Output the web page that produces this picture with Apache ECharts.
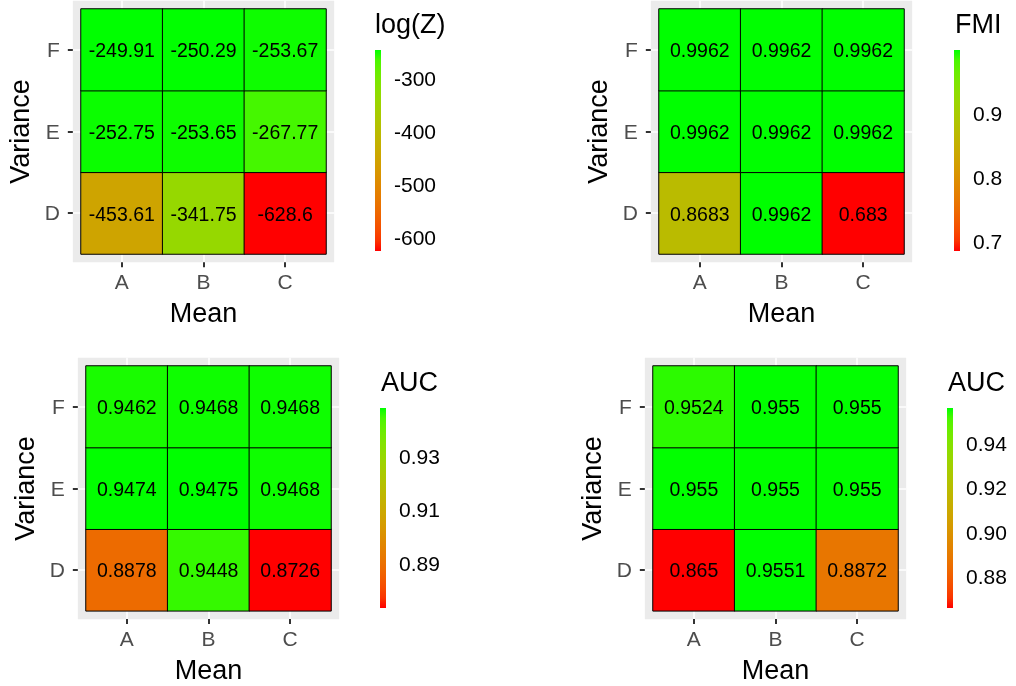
<!DOCTYPE html>
<html>
<head>
<meta charset="UTF-8" />
<title>Heatmaps</title>
<script src="https://cdn.jsdelivr.net/npm/echarts@6.0.0/dist/echarts.min.js"></script>
</head>
<body style="margin:0">
<div id="chart" style="width:1016px;height:686px"></div>
<script>
// categories
const meanCats = ['A', 'B', 'C'];
const varCats = ['D', 'E', 'F'];

// values, rows D, E, F ; columns A, B, C
const logZ = [[-453.61, -341.75, -628.6], [-252.75, -253.65, -267.77], [-249.91, -250.29, -253.67]];
const fmi = [[0.8683, 0.9962, 0.683], [0.9962, 0.9962, 0.9962], [0.9962, 0.9962, 0.9962]];
const aucLeft = [[0.8878, 0.9448, 0.8726], [0.9474, 0.9475, 0.9468], [0.9462, 0.9468, 0.9468]];
const aucRight = [[0.865, 0.9551, 0.8872], [0.955, 0.955, 0.955], [0.9524, 0.955, 0.955]];

// legend titles and ticks
const legendTitles = ['log(Z)', 'FMI', 'AUC', 'AUC'];
const legendTicks = [[-600, -500, -400, -300], [0.7, 0.8, 0.9], [0.89, 0.91, 0.93], [0.88, 0.90, 0.92, 0.94]];
const legendDigits = [0, 1, 2, 2];

const panelValues = [logZ, fmi, aucLeft, aucRight];

// layout (px): tile area origin, colour bar position, legend title position
const layout = [
  { x: 81, y: 9, barX: 375, barY: 50, barH: 201, tX: 375, tY: 12 },
  { x: 659, y: 9, barX: 954, barY: 50, barH: 201, tX: 955, tY: 12 },
  { x: 86, y: 366, barX: 380, barY: 408, barH: 200, tX: 381, tY: 370 },
  { x: 653, y: 366, barX: 947, barY: 408, barH: 200, tX: 948, tY: 370 }
];
const TILE = 245;
const PAD = TILE * 0.1 / 3;

// red -> green gradient interpolated in Lab like ggplot
function labToHex(L, a, b) {
  const fy = (L + 16) / 116, fx = fy + a / 500, fz = fy - b / 200;
  const inv = t => t > 6 / 29 ? t * t * t : 3 * (6 / 29) * (6 / 29) * (t - 4 / 29);
  const X = 0.95047 * inv(fx), Y = inv(fy), Z = 1.08883 * inv(fz);
  const r = 3.2406 * X - 1.5372 * Y - 0.4986 * Z;
  const g = -0.9689 * X + 1.8758 * Y + 0.0415 * Z;
  const bl = 0.0557 * X - 0.2040 * Y + 1.0570 * Z;
  const gam = c => { c = Math.max(0, Math.min(1, c)); return c <= 0.0031308 ? 12.92 * c : 1.055 * Math.pow(c, 1 / 2.4) - 0.055; };
  return '#' + [r, g, bl].map(c => Math.round(gam(c) * 255).toString(16).padStart(2, '0')).join('');
}
const red = [53.2408, 80.0925, 67.2032], green = [87.7347, -86.1827, 83.1793];
const gradient = [];
for (let i = 0; i <= 20; i++) {
  const t = i / 20;
  gradient.push(labToHex(red[0] + (green[0] - red[0]) * t, red[1] + (green[1] - red[1]) * t, red[2] + (green[2] - red[2]) * t));
}
const barFill = {
  type: 'linear', x: 0, y: 1, x2: 0, y2: 0,
  colorStops: gradient.map((c, k) => ({ offset: k / (gradient.length - 1), color: c }))
};

const font = 'Liberation Sans';
let grid = [], xAxis = [], yAxis = [], series = [], visualMap = [], title = [];

layout.forEach((p, i) => {
  const vals = panelValues[i];
  const flat = vals.flat();
  const vmin = Math.min(...flat), vmax = Math.max(...flat);

  // grey panel background with white grid lines
  grid.push({ left: p.x - PAD, top: p.y - PAD, width: TILE + 2 * PAD, height: TILE + 2 * PAD,
    show: true, backgroundColor: '#EBEBEB', borderWidth: 0 });
  const bgAxis = {
    type: 'value', gridIndex: 3 * i, min: 0.4, max: 3.6,
    axisLine: { show: false }, axisLabel: { show: false },
    axisTick: { show: false, customValues: [1, 2, 3] },
    splitLine: { show: true, lineStyle: { color: '#fff', width: 1.6 } }
  };
  xAxis.push(Object.assign({}, bgAxis));
  yAxis.push(Object.assign({}, bgAxis));

  // tiles
  grid.push({ left: p.x, top: p.y, width: TILE, height: TILE });
  xAxis.push({
    type: 'category', gridIndex: 3 * i + 1, data: meanCats, offset: PAD,
    axisLine: { show: false },
    axisTick: { show: true, alignWithLabel: true, length: 5, lineStyle: { color: '#333', width: 2 } },
    axisLabel: { color: '#4D4D4D', fontSize: 21, margin: 11, fontFamily: font },
    splitLine: { show: false },
    name: 'Mean', nameLocation: 'middle', nameGap: 39,
    nameTextStyle: { color: '#000', fontSize: 27, fontFamily: font }
  });
  yAxis.push({
    type: 'category', gridIndex: 3 * i + 1, data: varCats, offset: PAD,
    axisLine: { show: false },
    axisTick: { show: true, alignWithLabel: true, length: 5, lineStyle: { color: '#333', width: 2 } },
    axisLabel: { color: '#4D4D4D', fontSize: 21, margin: 13, fontFamily: font,
      formatter: v => '{t|' + v + '}',
      rich: { t: { color: '#4D4D4D', fontSize: 21, fontFamily: font, padding: [3, 0, 0, 0] } } },
    splitLine: { show: false },
    name: 'Variance', nameLocation: 'middle', nameGap: 38, nameRotate: 90,
    nameTextStyle: { color: '#000', fontSize: 27, fontFamily: font }
  });

  // colour bar drawn as a gradient grid, with its own axis for tick labels
  grid.push({ left: p.barX, top: p.barY, width: 6, height: p.barH, show: true, borderWidth: 0, backgroundColor: barFill });
  xAxis.push({ type: 'value', gridIndex: 3 * i + 2, show: false });
  yAxis.push({
    type: 'value', gridIndex: 3 * i + 2, min: vmin, max: vmax, position: 'right',
    axisLine: { show: false },
    axisTick: { show: true, inside: true, length: 1.5, customValues: legendTicks[i], lineStyle: { color: '#fff', width: 1 } },
    axisLabel: { customValues: legendTicks[i], margin: 13, fontSize: 21, color: '#000', fontFamily: font,
      formatter: v => '{t|' + Number(v).toFixed(legendDigits[i]) + '}',
      rich: { t: { color: '#000', fontSize: 21, fontFamily: font, padding: [7, 0, 0, 0] } } },
    splitLine: { show: false }
  });

  const data = [];
  vals.forEach((row, r) => row.forEach((v, c) => data.push([c, r, v])));
  series.push({
    type: 'heatmap', xAxisIndex: 3 * i + 1, yAxisIndex: 3 * i + 1, data: data,
    itemStyle: { borderColor: '#000', borderWidth: 1 },
    label: { show: true, color: '#000', fontSize: 19.5, fontFamily: font, offset: [0, 2],
      formatter: q => String(q.value[2]) },
    emphasis: { disabled: true }
  });

  visualMap.push({
    type: 'continuous', seriesIndex: i, min: vmin, max: vmax, show: false,
    inRange: { color: gradient }
  });

  title.push({ text: legendTitles[i], left: p.tX, top: p.tY, padding: 0,
    textStyle: { fontSize: 27, fontWeight: 'normal', color: '#000', fontFamily: font } });
});

const chart = echarts.init(document.getElementById('chart'));
chart.setOption({
  animation: false,
  backgroundColor: '#fff',
  textStyle: { fontFamily: font },
  title: title,
  grid: grid,
  xAxis: xAxis,
  yAxis: yAxis,
  visualMap: visualMap,
  series: series
});
</script>
</body>
</html>
